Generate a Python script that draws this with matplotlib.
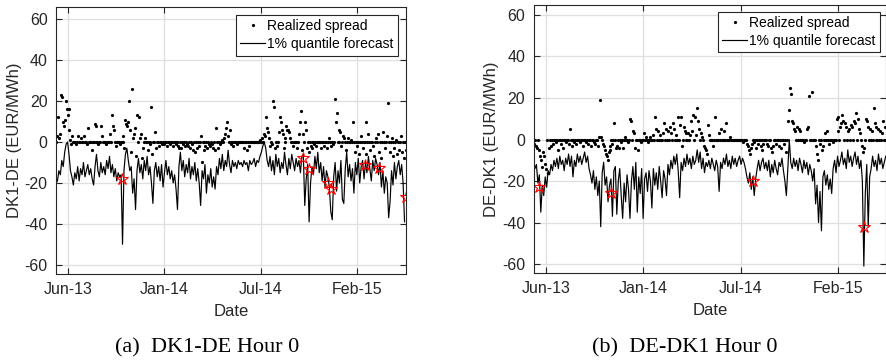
import pandas as pd
import matplotlib
matplotlib.use('Agg')
import matplotlib.pyplot as plt

plt.rcParams['font.family'] = ['Liberation Sans', 'DejaVu Sans']
plt.rcParams['axes.unicode_minus'] = False

START = '2013-05-21'
# forecast read every 3rd day, realized spread every 2nd day
qDates = pd.date_range(START, periods=242, freq='3D')
sDates = pd.date_range(START, periods=364, freq='2D')

dk1deQuantile = [
    -20, -19, -14, -16, -9, -12, -5, -1, 0, -6,
    -14, -17, -21, -15, -18, -12, -19, -13, -16, -10,
    -17, -14, -11, -16, -13, -18, -21, -12, -6, -14,
    -17, -10, -15, -12, -16, -9, -13, -7, -15, -11,
    -17, -13, -19, -15, -17, -16, -50, -14, -6, -3,
    -9, -14, -12, -25, -18, -33, -14, -8, -15, -11,
    -18, -9, -14, -7, -16, -12, -20, -30, -14, -10,
    -17, -12, -19, -11, -22, -15, -9, -16, -12, -18,
    -14, -20, -16, -23, -33, -12, -5, -14, -9, -17,
    -11, -15, -8, -18, -12, -16, -10, -19, -13, -20,
    -31, -14, -18, -11, -25, -16, -20, -13, -22, -17,
    -23, -12, -16, -8, -13, -6, -14, -9, -12, -4,
    -11, -15, -9, -12, -10, -13, -9, -11, -10, -12,
    -9, -11, -10, -14, -9, -11, -10, -8, -12, -9,
    -10, -7, -5, -2, 0, -3, -9, -12, -7, -14,
    -9, -16, -6, -12, -8, -15, -10, -13, -5, -11,
    -16, -8, -13, -6, -10, -14, -8, -12, -9, -15,
    -7, -6, -31, -18, -11, -39, -20, -12, -16, -7,
    -13, -5, -15, -10, -19, -12, -22, -14, -17, -22,
    -34, -38, -17, -10, -24, -14, -20, -9, -28, -30,
    -13, -5, -17, -11, -19, -13, -25, -10, -16, -8,
    -20, -12, -9, -18, -10, -15, -7, -13, -19, -9,
    -14, -8, -11, -16, -10, -22, -14, -25, -17, -20,
    -37, -29, -14, -21, -10, -18, -12, -9, -16, -11,
    -20, -39]

dk1deSpread = [
    0, 3, 12, 2, 4, 23, 22, 10, 8, 11,
    20, 16, 13, 16, 6, 1, -1, 3, 0, 0,
    0, -1, 0, 3, 0, 0, 2, 0, 0, 3,
    0, 0, -1, 7, 0, 0, 0, -4, 0, 0,
    9, 8, 0, 0, -1, 0, 0, 8, 3, 0,
    0, 0, -1, 0, 0, 0, 4, 0, 13, 8,
    6, 0, -2, 0, 0, 0, -1, 0, 0, 3,
    0, -3, 11, 9, 8, 10, 20, 6, -5, 26,
    2, 4, 7, -7, 13, 0, 12, 2, 4, -8,
    -3, 0, 2, 0, 0, -4, 0, 0, -1, 17,
    -6, 0, 0, 5, -3, 0, 0, -2, 0, 0,
    -1, 0, -1, 0, 0, -2, 0, 0, -1, 0,
    0, -2, 0, 0, -1, 0, 0, -2, -3, 0,
    -3, 0, -1, 0, -2, 0, -1, -2, 0, -3,
    0, -1, -4, 0, -5, 0, -3, 0, -2, 0,
    3, -10, 0, -4, 0, -2, 0, -3, 0, -1,
    -2, 0, -1, -3, 0, -4, 7, 0, -3, 0,
    -1, 0, 1, 0, 2, 4, 7, 10, 3, 0,
    6, 0, -1, 0, -2, 0, 0, 0, -1, 0,
    0, 0, 0, 0, 0, -3, 0, 0, -4, 0,
    -2, 0, 0, 0, 0, 0, 0, 0, 0, 0,
    0, 0, 1, 0, 2, 0, 4, 3, 12, 7,
    5, 2, -2, 0, -1, 20, 17, -3, 0, -2,
    0, 5, 12, 10, 6, 4, -3, 2, 0, 8,
    6, 6, 5, 2, 0, 0, -2, 0, 0, 0,
    -3, 0, 4, 10, 15, -4, 4, 0, 10, 6,
    -3, 0, -5, 0, -2, 0, -3, 0, -1, 0,
    -2, 0, 0, 0, 0, -3, 0, 0, -2, 0,
    0, -3, 0, 2, 0, -2, 0, -1, 0, 21,
    10, 14, 0, 6, 0, 5, -2, 0, 3, 2,
    0, -4, 0, 2, 0, 0, 1, 0, 10, 0,
    -5, 0, -2, 0, -6, 0, 3, 0, -3, 0,
    0, -6, 10, 0, 4, 0, -4, 0, 0, -2,
    -7, 0, 2, 0, 4, -5, 0, -8, 0, 5,
    0, -3, 0, 3, 19, 0, -5, 0, 2, -7,
    0, -3, 0, 1, -6, 0, -4, 0, 3, -5,
    0, -8, 0, -4]

dk1deStarDates = ['2013-10-04', '2014-10-16', '2014-10-27', '2014-12-07',
                  '2014-12-12', '2015-02-20', '2015-03-21', '2015-05-17']
dk1deStarVals = [-18, -8, -13, -20, -23, -11, -12.5, -27]

dedk1Quantile = [
    -10, -14, -12, -21, -17, -35, -22, -27, -18, -23,
    -15, -17, -12, -15, -10, -13, -9, -14, -8, -12,
    -10, -15, -9, -12, -7, -13, -8, -18, -10, -13,
    -7, -11, -8, -12, -9, -6, -11, -8, -14, -17,
    -21, -15, -24, -18, -27, -20, -42, -16, -11, -22,
    -18, -30, -22, -19, -37, -15, -13, -36, -20, -14,
    -27, -38, -21, -30, -17, -24, -38, -20, -13, -24,
    -11, -35, -18, -26, -14, -38, -19, -16, -25, -15,
    -20, -33, -14, -22, -16, -24, -13, -20, -28, -15,
    -19, -27, -12, -17, -10, -14, -8, -12, -7, -15,
    -28, -11, -15, -9, -13, -7, -12, -9, -14, -8,
    -12, -10, -5, -11, -6, -14, -9, -16, -11, -13,
    -10, -14, -9, -12, -15, -10, -13, -25, -11, -14,
    -9, -12, -7, -13, -10, -14, -8, -12, -9, -13,
    -10, -8, -12, -9, -11, -14, -18, -21, -16, -24,
    -18, -27, -19, -14, -10, -15, -11, -9, -14, -11,
    -15, -10, -18, -12, -16, -10, -14, -17, -11, -13,
    -9, -15, -20, -27, -14, 0, -11, -14, -9, -13,
    -10, -15, -9, -12, -16, -10, -14, -11, -17, -12,
    -15, -20, -14, -31, -22, -40, -25, -44, -18, -15,
    -22, -17, -24, -19, -26, -14, -10, -16, -8, -13,
    -10, -6, -12, -9, -14, -5, -11, -8, -13, -9,
    -6, -12, -8, -14, -10, -20, -61, -26, -12, -42,
    -18, -14, -8, -13, -10, -15, -7, -12, -9, -14,
    -11, -8]

dedk1Spread = [
    0, -2, 0, -3, -4, 0, -5, -8, -10, -13,
    -6, -8, -12, -14, 0, -16, -4, 0, -3, 0,
    -2, 0, 0, -1, 0, -5, 0, 0, -2, 0,
    -4, 0, 0, -1, 0, 0, -2, 5, 0, -3,
    0, 0, -1, 0, -2, 0, 0, 0, -1, 0,
    0, -3, 0, 0, -1, 0, -2, 0, 0, -3,
    0, 0, -1, -2, 0, 0, -3, 1, 19, 1,
    0, -2, -3, -5, -7, -8, -10, -6, -3, -5,
    0, -2, 0, 8, 0, -4, -3, 0, -4, 0,
    -1, 0, -4, 0, 1, 0, 0, -1, 0, 10,
    9, 0, 4, 3, -4, 0, 0, -5, 0, 0,
    -1, 0, 0, 3, 0, 1, 0, -1, 0, 0,
    1, 0, 0, 2, 0, 11, 5, 0, 4, 0,
    2, 0, 0, 3, 8, 0, 5, 0, 4, 0,
    6, 3, 0, 8, 5, 0, 2, 0, 11, 0,
    7, 11, -3, 0, 6, 4, 0, 3, 0, 3,
    0, 2, 9, 4, 12, 0, 11, 2, 15, 9,
    5, 0, 3, 1, 0, -3, -4, -5, -7, 7,
    2, 0, 0, 0, -3, 0, 11, 0, 0, 0,
    3, 0, 5, 0, 0, 0, 4, 0, 8, 0,
    0, 0, 1, 0, 0, 0, 0, 0, 0, 0,
    0, 0, 0, 0, 0, -1, 0, 0, 0, -2,
    -3, -5, -7, -4, -2, 0, -1, 0, -4, 0,
    -2, 0, 0, -3, -5, 0, -2, 0, 0, 0,
    -2, -3, 0, 0, -4, -6, -3, 0, 0, -2,
    0, 0, -3, 0, -4, 0, 0, -2, 0, -6,
    0, 9, 14, 25, 22, 9, 8, 5, 4, 0,
    6, 0, 5, 0, 4, 0, 0, 0, -1, 0,
    0, 5, 6, 21, 0, 0, 23, 0, 0, 0,
    -3, -7, -10, 0, -2, 0, -5, -3, 0, 3,
    0, 4, 0, -2, 0, 0, 0, -1, 0, 0,
    0, 10, 4, 11, 0, 6, 8, 12, 9, 0,
    8, 6, 0, 4, 5, 0, 7, 6, 0, 9,
    8, 13, 0, 10, 5, 3, 0, -3, -6, -4,
    0, 10, 9, 6, 0, 5, 0, 4, 0, 15,
    8, 0, 6, 0, 5, 0, 4, 0, 3, 9,
    0, 6, 0, 8]

dedk1StarDates = ['2013-06-01', '2013-10-28', '2014-08-14', '2015-03-30']
dedk1StarVals = [-23, -26, -20, -42]

tickDates = pd.to_datetime(['2013-06-15', '2014-01-01', '2014-07-20', '2015-02-05'])
tickLabels = ['Jun-13', 'Jan-14', 'Jul-14', 'Feb-15']
yTicks = [-60, -40, -20, 0, 20, 40, 60]

DARK = '#262626'


def drawPanel(ax, spread, quantile, starDates, starVals, ylabel, ndays, ylim, legAnchor):
    ax.plot(sDates, spread, 'o', color='black', ms=2.3, mew=0, label='Realized spread')
    ax.plot(qDates, quantile, '-', color='black', lw=0.85, label='1% quantile forecast')
    ax.plot(pd.to_datetime(starDates), starVals, '*', mfc='none', mec='red',
            ms=9, mew=0.8)

    start = pd.Timestamp(START)
    ax.set_xlim(start, start + pd.Timedelta(days=ndays))
    ax.set_ylim(ylim)
    ax.set_xticks(tickDates)
    ax.set_xticklabels(tickLabels)
    ax.set_yticks(yTicks)
    ax.set_yticklabels([str(t) for t in yTicks])

    ax.grid(True, color='#dfdfdf', lw=0.9)
    ax.set_axisbelow(True)
    for sp in ax.spines.values():
        sp.set_color(DARK)
        sp.set_linewidth(0.8)
    ax.tick_params(direction='in', top=True, right=True, length=4, width=0.8,
                   colors=DARK, labelsize=11.5, pad=6)
    ax.set_xlabel('Date', fontsize=12, color=DARK, labelpad=5)
    ax.set_ylabel(ylabel, fontsize=12, color=DARK, labelpad=2)

    leg = ax.legend(loc='upper right', bbox_to_anchor=legAnchor, fontsize=10,
                    fancybox=False, edgecolor=DARK, framealpha=1, borderaxespad=0,
                    handlelength=1.8, handletextpad=0.15, labelspacing=0.3,
                    borderpad=0.3, numpoints=1)
    leg.get_frame().set_linewidth(0.8)


fig = plt.figure(figsize=(8.86, 3.61), dpi=100)
axL = fig.add_axes([56 / 886, 87 / 361, 350 / 886, 267 / 361])
axR = fig.add_axes([533.5 / 886, 88 / 361, 352.5 / 886, 268 / 361])

drawPanel(axL, dk1deSpread, dk1deQuantile, dk1deStarDates, dk1deStarVals,
          'DK1-DE (EUR/MWh)', 726, (-64.5, 66), (0.977, 0.970))
drawPanel(axR, dedk1Spread, dedk1Quantile, dedk1StarDates, dedk1StarVals,
          'DE-DK1 (EUR/MWh)', 723.5, (-64.3, 64.8), (0.983, 0.974))

fig.text(207.5 / 886, 1 - 348 / 361, '(a)  DK1-DE Hour 0', ha='center', va='center',
         family='Liberation Serif', fontsize=16)
fig.text(684.7 / 886, 1 - 348 / 361, '(b)  DE-DK1 Hour 0', ha='center', va='center',
         family='Liberation Serif', fontsize=16)

fig.savefig('out.png', dpi=100)
